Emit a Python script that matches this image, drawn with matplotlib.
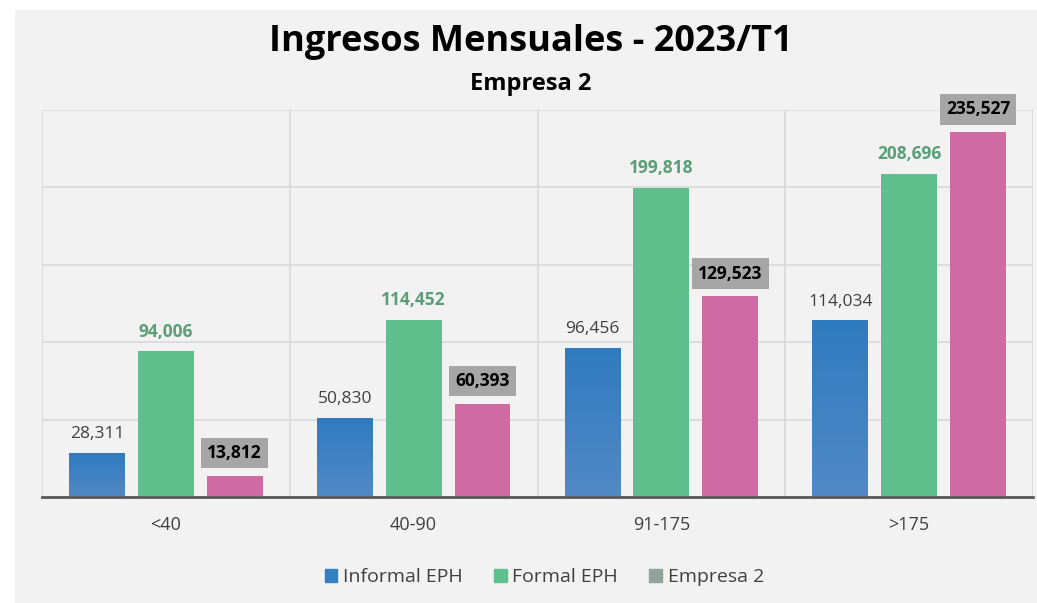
import matplotlib
matplotlib.use('Agg')
from matplotlib import pyplot as plt
from matplotlib.patches import Rectangle
import numpy as np

plt.rcParams['font.family'] = ['Open Sans', 'DejaVu Sans']

# datos
categorias = ['<40', '40-90', '91-175', '>175']
informal_eph = [28311, 50830, 96456, 114034]
formal_eph = [94006, 114452, 199818, 208696]
empresa_2 = [13812, 60393, 129523, 235527]
series_nombres = ['Informal EPH', 'Formal EPH', 'Empresa 2']

azul = '#3580c2'
verde = '#5fbf8d'
rosa = '#d06aa2'
fondo = '#f2f2f2'

fig = plt.figure(figsize=(10.37, 6.03), dpi=100, facecolor='white')
# panel gris del grafico
fig.patches.append(Rectangle((15 / 1037, 0), 1 - 15 / 1037, 1 - 10 / 603,
                             transform=fig.transFigure, facecolor=fondo,
                             edgecolor='none', zorder=-10))

ax = fig.add_axes([42 / 1037, 1 - 497 / 603, (1033 - 42) / 1037, (497 - 110) / 603])
ax.set_facecolor(fondo)

x = np.arange(len(categorias))
ancho = 0.226
paso = 0.278

barras_azul = ax.bar(x - paso, informal_eph, ancho, color=azul, zorder=3)
barras_verde = ax.bar(x, formal_eph, ancho, color=verde, zorder=3)
barras_rosa = ax.bar(x + paso, empresa_2, ancho, color=rosa, zorder=3)

# degradado en barras azules
grad = np.linspace(0, 1, 256).reshape(-1, 1)
cmap = matplotlib.colors.LinearSegmentedColormap.from_list('az', ['#5289c6', '#2f7bbf'])
for b in barras_azul:
    x0, y0 = b.get_x(), b.get_y()
    w, h = b.get_width(), b.get_height()
    im = ax.imshow(grad, cmap=cmap, aspect='auto', origin='lower',
                   extent=[x0, x0 + w, y0, y0 + h], zorder=3.5)
    im.set_clip_path(b)

ax.set_xlim(-0.5, 3.5)
ax.set_ylim(0, 250000)
ax.set_yticks(np.arange(0, 250001, 50000))
ax.set_yticklabels([])
ax.tick_params(axis='y', length=0)
ax.tick_params(axis='x', length=0, pad=14, labelsize=13, labelcolor='#404040')
ax.set_xticks(x)
ax.set_xticklabels(categorias)
ax.grid(axis='y', color='#d9d9d9', linewidth=1.2, zorder=0)
for xv in [-0.5, 0.5, 1.5, 2.5, 3.5]:
    ax.axvline(xv, color='#d9d9d9', linewidth=1.2, zorder=0)
for s in ['top', 'right', 'left']:
    ax.spines[s].set_visible(False)
ax.spines['bottom'].set_color('#595959')
ax.spines['bottom'].set_linewidth(2)
ax.spines['bottom'].set_zorder(4)

# etiquetas
for xi, v in zip(x, informal_eph):
    ax.text(xi - paso, v + 7000, f'{v:,}', ha='center', va='bottom',
            fontsize=12.5, color='#404040')
for xi, v in zip(x, formal_eph):
    ax.text(xi, v + 7000, f'{v:,}', ha='center', va='bottom',
            fontsize=12.5, color='#5a9e78', fontweight='bold')
for xi, v in zip(x, empresa_2):
    ax.text(xi + paso, v + 9000, f'{v:,}', ha='center', va='bottom',
            fontsize=12.5, color='black', fontweight='bold',
            bbox=dict(boxstyle='square,pad=0.35', facecolor='#a6a6a6', edgecolor='none'))

fig.text(0.512, 1 - 42 / 603, 'Ingresos Mensuales - 2023/T1', ha='center', va='center',
         fontsize=26, fontweight='bold', color='black')
fig.text(0.512, 1 - 84 / 603, 'Empresa 2', ha='center', va='center',
         fontsize=17, fontweight='bold', color='black')

# leyenda
handles = [Rectangle((0, 0), 1, 1, color=c) for c in [azul, verde, '#8fa39a']]
fig.legend(handles, series_nombres, loc='center', bbox_to_anchor=(0.525, 1 - 577 / 603),
           ncol=3, frameon=False, fontsize=14, handlelength=0.65, handleheight=0.65,
           handletextpad=0.3, columnspacing=1.6, labelcolor='#404040')

fig.savefig('out.png', dpi=100, facecolor='white')
